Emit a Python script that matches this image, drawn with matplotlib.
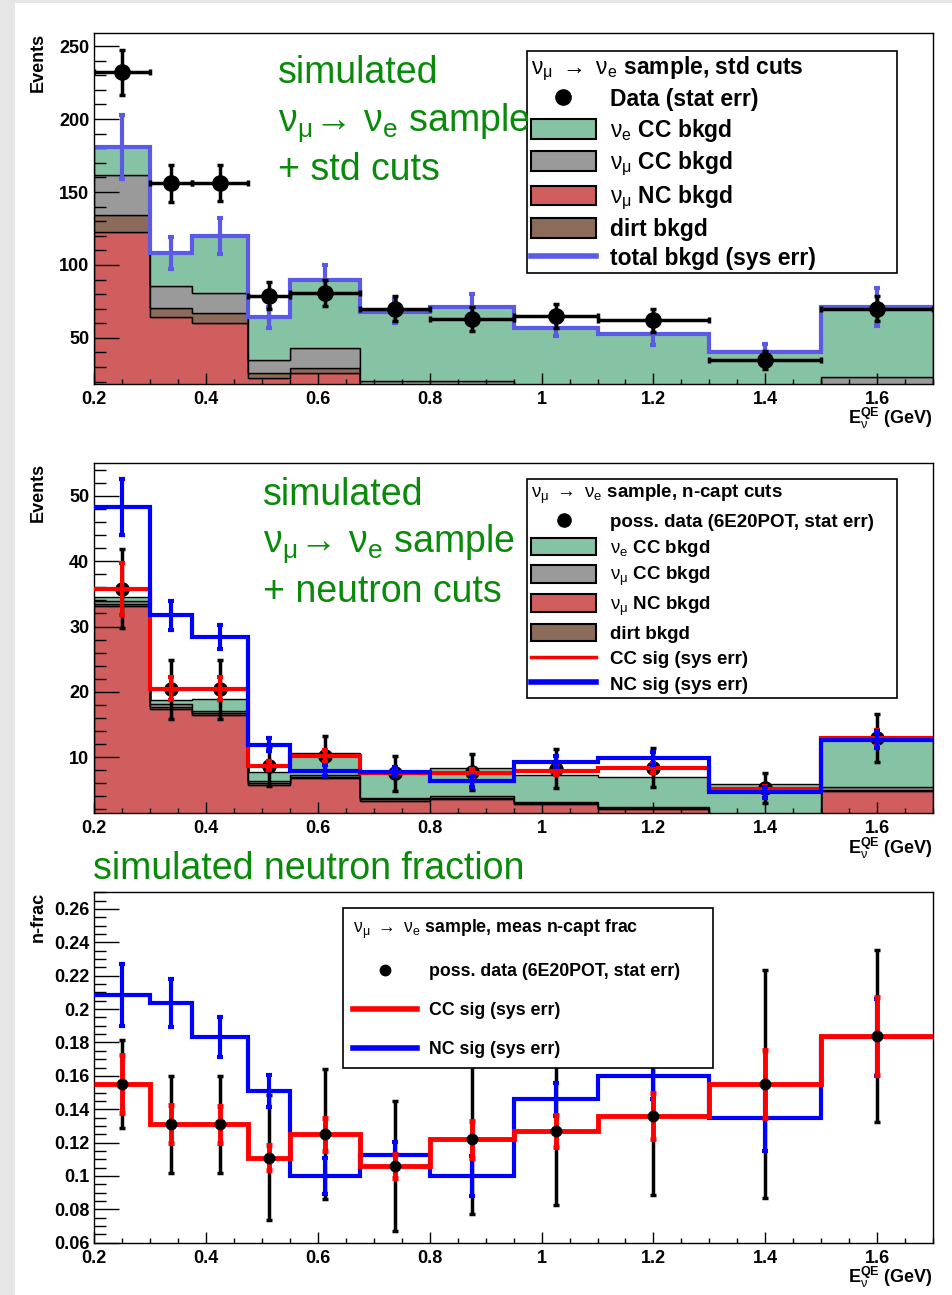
import numpy as np
import matplotlib
matplotlib.use("Agg")
import matplotlib.pyplot as plt
from matplotlib.lines import Line2D
from matplotlib.patches import Patch, Rectangle
from matplotlib.ticker import MultipleLocator, FuncFormatter

plt.rcParams['font.family'] = ['Liberation Sans', 'DejaVu Sans']
plt.rcParams['font.weight'] = 'bold'
plt.rcParams['axes.labelweight'] = 'bold'
plt.rcParams['mathtext.fontset'] = 'custom'
plt.rcParams['mathtext.rm'] = 'Liberation Sans:weight=normal'
plt.rcParams['mathtext.it'] = 'Liberation Sans:italic:weight=normal'
plt.rcParams['mathtext.bf'] = 'Liberation Sans:weight=bold'

# E_nu^QE bin edges (GeV), last bin shown up to 1.7
edges = [0.2, 0.3, 0.375, 0.475, 0.55, 0.675, 0.8, 0.95, 1.1, 1.3, 1.5, 1.7]

# --- top panel: std cuts ---
std_nc = [122.7, 64.3, 60.4, 22.3, 25.7, 12, 11, 9, 8, 6, 12]
std_dirt = [11.3, 6.1, 6.9, 3.8, 3.8, 3, 3, 2.5, 2, 1.5, 3]
std_numucc = [27.4, 15.5, 13.6, 8.7, 13.9, 5.5, 6.5, 5, 4.5, 4, 8]
std_nuecc = [19.6, 22.1, 39.1, 29.2, 46.6, 47.5, 50.5, 40.5, 38.5, 28.5, 48]
std_bkgd_err = [22, 11, 12.5, 7, 10, 8, 9, 6, 8, 6, 13]
std_data = [232, 156, 156, 79, 81, 70, 63, 65, 62, 35, 70]
std_data_err = [15.5, 12.6, 12.5, 9, 9, 8.5, 8, 8, 8, 6, 8.5]

# --- middle panel: neutron cuts ---
n_nc = [33.1, 17.4, 16.5, 5.8, 6.8, 3.35, 3.6, 2.8, 2.0, 1.0, 4.8]
n_dirt = [0.4, 0.3, 0.3, 0.2, 0.2, 0.2, 0.2, 0.2, 0.15, 0.1, 0.2]
n_numucc = [0.4, 0.4, 0.3, 0.3, 0.3, 0.2, 0.2, 0.2, 0.15, 0.1, 0.4]
n_nuecc = [0.6, 0.7, 1.8, 1.5, 3.3, 3.9, 4.3, 4.1, 4.7, 4.7, 7.35]
n_data = [35.8, 20.4, 20.4, 8.6, 10.1, 7.5, 7.7, 8.2, 8.4, 5.3, 12.9]
n_data_err = [6, 4.5, 4.5, 3, 3.2, 2.7, 2.8, 3, 3, 2.3, 3.7]
n_ccsig = [35.8, 20.5, 20.5, 8.7, 10.2, 7.55, 7.6, 7.95, 8.3, 5.1, 12.9]
n_ccsig_err = [4, 1.8, 1.7, 0.7, 0.9, 0.5, 0.6, 0.7, 0.8, 0.5, 1.2]
n_ncsig = [48.3, 31.7, 28.4, 11.9, 7.95, 7.8, 6.3, 9.3, 9.8, 4.6, 12.65]
n_ncsig_err = [4.3, 2.2, 1.9, 1.0, 0.8, 0.7, 0.8, 0.8, 1.0, 0.9, 1.3]

# --- bottom panel: neutron fraction ---
f_data = [0.155, 0.131, 0.131, 0.111, 0.125, 0.106, 0.122, 0.127, 0.136, 0.155, 0.184]
f_data_err = [0.0265, 0.029, 0.029, 0.0375, 0.039, 0.039, 0.0445, 0.0443, 0.0475, 0.0685, 0.0517]
f_cc = [0.155, 0.131, 0.131, 0.111, 0.125, 0.106, 0.122, 0.127, 0.136, 0.155, 0.184]
f_cc_err = [0.0175, 0.0115, 0.011, 0.0075, 0.01, 0.007, 0.011, 0.0095, 0.0137, 0.0205, 0.0235]
f_nc = [0.2086, 0.2036, 0.183, 0.151, 0.1, 0.1126, 0.1, 0.146, 0.16, 0.135, 0.183]
f_nc_err = [0.0185, 0.0145, 0.012, 0.0095, 0.011, 0.008, 0.012, 0.01, 0.014, 0.02, 0.023]

C_NUE = '#86c2a4'
C_NUMU = '#9a9a9a'
C_NC = '#d05e5e'
C_DIRT = '#8b6b5a'
C_TOT = '#5a5ae6'
C_TXT = '#0a8a0a'

edges = np.array(edges)
centers = (edges[:-1] + edges[1:]) / 2
halfw = (edges[1:] - edges[:-1]) / 2

W, H = 952, 1295
fig = plt.figure(figsize=(W / 100, H / 100), dpi=100)
fig.patch.set_facecolor('#e6e6e6')
fig.add_artist(Rectangle((15 / W, 0), 1 - 15 / W, 1 - 3 / H, transform=fig.transFigure,
                         facecolor='white', edgecolor='none', zorder=-10))

ax1 = fig.add_axes([94.3 / W, 1 - 384 / H, 838.7 / W, 351 / H])
ax2 = fig.add_axes([94.3 / W, 1 - 813.3 / H, 838.7 / W, 350 / H])
ax3 = fig.add_axes([94.3 / W, 1 - 1242.7 / H, 838.7 / W, 350.4 / H])


def draw_stack(ax, layers):
    bottom = np.zeros(len(centers))
    for vals, col in layers:
        top = bottom + np.array(vals)
        ax.stairs(top, edges, baseline=bottom, fill=True, facecolor=col,
                  edgecolor='black', linewidth=1)
        bottom = top
    return bottom


def style_axis(ax, ylim, ymaj, ymin, ylabel):
    ax.set_xlim(0.2, 1.7)
    ax.set_ylim(*ylim)
    ax.xaxis.set_major_locator(MultipleLocator(0.2))
    ax.xaxis.set_minor_locator(MultipleLocator(0.05))
    ax.yaxis.set_major_locator(MultipleLocator(ymaj))
    ax.yaxis.set_minor_locator(MultipleLocator(ymin))
    fmt = FuncFormatter(lambda v, p: '%g' % round(v, 4))
    ax.xaxis.set_major_formatter(fmt)
    ax.yaxis.set_major_formatter(fmt)
    ax.tick_params(which='both', direction='in', top=False, right=False,
                   labelsize=13, width=1)
    ax.tick_params(axis='y', which='major', length=18, pad=3.6)
    ax.tick_params(axis='y', which='minor', length=8.6)
    ax.tick_params(axis='x', which='major', length=7.7, pad=5)
    ax.tick_params(axis='x', which='minor', length=3.6)
    for s in ax.spines.values():
        s.set_linewidth(1)
    ax.set_ylabel(ylabel, fontsize=13, loc='top')
    ax.yaxis.set_label_coords(-0.057, 1.0)
    ax.set_xlabel(r'E$^{\mathbf{QE}}_{\mathrm{\nu}}$ (GeV)', fontsize=13, loc='right')
    ax.xaxis.set_label_coords(1.0, -0.063)


NU_ARROW = r'$\mathrm{\nu_{\mu}\ \rightarrow\ \nu_{e}}$'
GREEN_NU = r'$\mathrm{\nu_{\mu}\!\rightarrow\,\nu_{e}}$ sample'

# ---------------- top ----------------
tot = draw_stack(ax1, [(std_nc, C_NC), (std_dirt, C_DIRT), (std_numucc, C_NUMU), (std_nuecc, C_NUE)])
ax1.stairs(tot, edges, baseline=None, color=C_TOT, linewidth=3, zorder=2)
ax1.errorbar(centers, tot, yerr=std_bkgd_err, fmt='none', ecolor=C_TOT, elinewidth=3,
             capsize=2.5, capthick=3, zorder=2.1)
ax1.errorbar(centers, std_data, xerr=halfw, yerr=std_data_err, fmt='o', color='black',
             ms=11, elinewidth=2.5, capsize=2.5, capthick=2.5, zorder=3)
style_axis(ax1, (18.4, 259), 50, 10, 'Events')

h1 = [Line2D([], [], marker='o', ls='none', color='black', ms=11),
      Patch(facecolor=C_NUE, edgecolor='black', linewidth=1.5),
      Patch(facecolor=C_NUMU, edgecolor='black', linewidth=1.5),
      Patch(facecolor=C_NC, edgecolor='black', linewidth=1.5),
      Patch(facecolor=C_DIRT, edgecolor='black', linewidth=1.5),
      Line2D([], [], color=C_TOT, lw=4)]
l1 = ['Data (stat err)', r'$\mathrm{\nu_{e}}$ CC bkgd', r'$\mathrm{\nu_{\mu}}$ CC bkgd',
      r'$\mathrm{\nu_{\mu}}$ NC bkgd', 'dirt bkgd', 'total bkgd (sys err)']
leg = ax1.legend(h1, l1, title=NU_ARROW + ' sample, std cuts',
                 alignment='left', loc='upper left', bbox_to_anchor=(0.516, 0.0, 0.4405, 0.9496),
                 mode='expand', borderaxespad=0, fontsize=16.5,
                 title_fontproperties={'weight': 'bold', 'size': 16.5},
                 handlelength=2.87, handleheight=0.96, handletextpad=0.6, labelspacing=0.25,
                 borderpad=0.15, fancybox=False, framealpha=1, edgecolor='black')
leg.get_frame().set_linewidth(1.2)

for txt, yb in [('simulated', 83.3), (GREEN_NU, 131.5), ('+ std cuts', 180)]:
    fig.text(277.7 / W, 1 - yb / H, txt, color=C_TXT, fontsize=27, fontweight='normal', va='baseline')

# ---------------- middle ----------------
draw_stack(ax2, [(n_nc, C_NC), (n_dirt, C_DIRT), (n_numucc, C_NUMU), (n_nuecc, C_NUE)])
ax2.errorbar(centers, n_data, yerr=n_data_err, fmt='o', color='black', ms=9.5,
             elinewidth=2.5, capsize=2.5, capthick=2.5, zorder=2)
ax2.stairs(n_ccsig, edges, baseline=None, color='red', linewidth=3, zorder=3)
ax2.errorbar(centers, n_ccsig, yerr=n_ccsig_err, fmt='none', ecolor='red', elinewidth=3,
             capsize=2.5, capthick=3, zorder=3)
ax2.stairs(n_ncsig, edges, baseline=None, color='blue', linewidth=3, zorder=4)
ax2.errorbar(centers, n_ncsig, yerr=n_ncsig_err, fmt='none', ecolor='blue', elinewidth=3,
             capsize=2.5, capthick=3, zorder=4)
style_axis(ax2, (1.4, 55), 10, 2, 'Events')

h2 = [Line2D([], [], marker='o', ls='none', color='black', ms=9.5),
      Patch(facecolor=C_NUE, edgecolor='black', linewidth=1.5),
      Patch(facecolor=C_NUMU, edgecolor='black', linewidth=1.5),
      Patch(facecolor=C_NC, edgecolor='black', linewidth=1.5),
      Patch(facecolor=C_DIRT, edgecolor='black', linewidth=1.5),
      Line2D([], [], color='red', lw=2.5),
      Line2D([], [], color='blue', lw=4)]
l2 = ['poss. data (6E20POT, stat err)', r'$\mathrm{\nu_{e}}$ CC bkgd', r'$\mathrm{\nu_{\mu}}$ CC bkgd',
      r'$\mathrm{\nu_{\mu}}$ NC bkgd', 'dirt bkgd', 'CC sig (sys err)', 'NC sig (sys err)']
leg = ax2.legend(h2, l2, title=NU_ARROW + ' sample, n-capt cuts',
                 alignment='left', loc='upper left', bbox_to_anchor=(0.516, 0.0, 0.4405, 0.955),
                 mode='expand', borderaxespad=0, fontsize=13.5,
                 title_fontproperties={'weight': 'bold', 'size': 13.5},
                 handlelength=3.5, handleheight=1.07, handletextpad=0.7, labelspacing=0.33,
                 borderpad=0.2, fancybox=False, framealpha=1, edgecolor='black')
leg.get_frame().set_linewidth(1.2)

for txt, yb in [('simulated', 505), (GREEN_NU, 553), ('+ neutron cuts', 602)]:
    fig.text(263.3 / W, 1 - yb / H, txt, color=C_TXT, fontsize=27, fontweight='normal', va='baseline')

# ---------------- bottom ----------------
ax3.errorbar(centers, f_data, yerr=f_data_err, fmt='none', ecolor='black',
             elinewidth=2.5, capsize=2.5, capthick=2.5, zorder=2)
ax3.stairs(f_nc, edges, baseline=None, color='blue', linewidth=3, zorder=3)
ax3.errorbar(centers, f_nc, yerr=f_nc_err, fmt='none', ecolor='blue', elinewidth=3,
             capsize=2.5, capthick=3, zorder=3)
ax3.stairs(f_cc, edges, baseline=None, color='red', linewidth=3.5, zorder=4)
ax3.errorbar(centers, f_cc, yerr=f_cc_err, fmt='none', ecolor='red', elinewidth=3.5,
             capsize=2.5, capthick=3.5, zorder=4)
ax3.plot(centers, f_data, 'o', color='black', ms=7.5, zorder=5)
style_axis(ax3, (0.06, 0.27), 0.02, 0.005, 'n-frac')

h3 = [Line2D([], [], marker='o', ls='none', color='black', ms=7.5),
      Line2D([], [], color='red', lw=4),
      Line2D([], [], color='blue', lw=4)]
l3 = ['poss. data (6E20POT, stat err)', 'CC sig (sys err)', 'NC sig (sys err)']
leg = ax3.legend(h3, l3, title=NU_ARROW + ' sample, meas n-capt frac',
                 alignment='left', loc='upper left', bbox_to_anchor=(0.2965, 0.0, 0.4408, 0.956),
                 mode='expand', borderaxespad=0, fontsize=12.8,
                 title_fontproperties={'weight': 'bold', 'size': 12.8},
                 handlelength=3.6, handletextpad=0.7, labelspacing=1.25,
                 borderpad=0.55, fancybox=False, framealpha=1, edgecolor='black')
leg.get_frame().set_linewidth(1.2)

fig.text(93.3 / W, 1 - 879.3 / H, 'simulated neutron fraction', color=C_TXT, fontsize=27,
         fontweight='normal', va='baseline')

fig.savefig('out.png', dpi=100, facecolor=fig.get_facecolor())
